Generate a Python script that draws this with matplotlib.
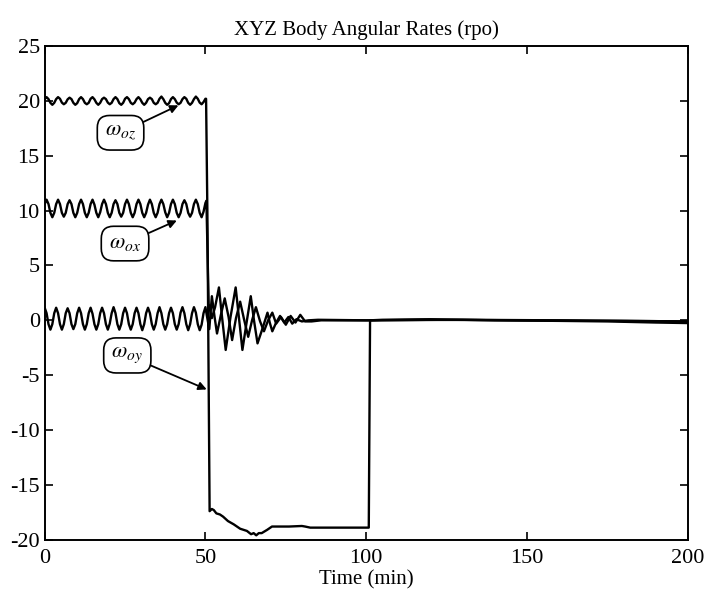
import numpy as np
import matplotlib
matplotlib.use('Agg')
import matplotlib.pyplot as plt

plt.rcParams['font.family'] = ['Liberation Serif', 'DejaVu Serif']
plt.rcParams['mathtext.fontset'] = 'stix'
plt.rcParams['axes.unicode_minus'] = False

# samples before t = 50 min (6 per wiggle)
t_pre = np.linspace(0, 50, 85)

wz_pre = [20.17, 20.35, 20.17, 19.83, 19.65, 19.83,
          20.17, 20.35, 20.2, 19.85, 19.7, 19.83,
          20.15, 20.3, 20.17, 19.83, 19.65, 19.8,
          20.17, 20.35, 20.17, 19.83, 19.7, 19.83,
          20.2, 20.35, 20.15, 19.83, 19.65, 19.83,
          20.17, 20.3, 20.17, 19.85, 19.7, 19.83,
          20.17, 20.35, 20.17, 19.8, 19.65, 19.83,
          20.2, 20.35, 20.17, 19.83, 19.7, 19.85,
          20.17, 20.35, 20.15, 19.83, 19.65, 19.83,
          20.17, 20.3, 20.17, 19.83, 19.7, 19.83,
          20.2, 20.4, 20.17, 19.83, 19.65, 19.8,
          20.17, 20.35, 20.17, 19.85, 19.7, 19.83,
          20.17, 20.35, 20.2, 19.83, 19.65, 19.83,
          20.17, 20.4, 20.2, 19.85, 19.7, 19.9,
          20.2]

wx_pre = [10.6, 11.0, 10.6, 9.8, 9.4, 9.8,
          10.6, 11.0, 10.6, 9.8, 9.45, 9.8,
          10.6, 10.95, 10.6, 9.8, 9.4, 9.8,
          10.6, 11.0, 10.6, 9.8, 9.4, 9.8,
          10.6, 11.0, 10.55, 9.8, 9.4, 9.85,
          10.6, 11.0, 10.6, 9.8, 9.4, 9.8,
          10.6, 10.95, 10.6, 9.8, 9.45, 9.8,
          10.6, 11.0, 10.6, 9.8, 9.4, 9.8,
          10.6, 11.0, 10.6, 9.8, 9.4, 9.8,
          10.55, 11.0, 10.6, 9.8, 9.4, 9.8,
          10.6, 11.0, 10.6, 9.85, 9.4, 9.8,
          10.6, 11.0, 10.6, 9.8, 9.4, 9.8,
          10.6, 10.95, 10.6, 9.8, 9.45, 9.8,
          10.6, 11.0, 10.6, 9.8, 9.4, 9.9,
          10.7]

wy_pre = [1.15, 0.65, -0.35, -0.85, -0.35, 0.65,
          1.15, 0.65, -0.35, -0.85, -0.35, 0.65,
          1.1, 0.65, -0.35, -0.8, -0.35, 0.65,
          1.15, 0.65, -0.35, -0.85, -0.35, 0.65,
          1.15, 0.6, -0.35, -0.85, -0.35, 0.65,
          1.15, 0.65, -0.35, -0.85, -0.3, 0.65,
          1.2, 0.65, -0.35, -0.85, -0.35, 0.65,
          1.15, 0.65, -0.35, -0.85, -0.35, 0.65,
          1.15, 0.65, -0.35, -0.9, -0.35, 0.65,
          1.15, 0.65, -0.35, -0.85, -0.35, 0.65,
          1.2, 0.65, -0.35, -0.85, -0.35, 0.65,
          1.15, 0.65, -0.35, -0.85, -0.35, 0.7,
          1.2, 0.65, -0.35, -0.9, -0.35, 0.65,
          1.2, 0.7, -0.35, -0.9, -0.4, 0.65,
          1.2]

# samples after t = 50 min
tz_post = [50.2, 50.6, 51.3, 52.0, 52.6, 53.4, 54.5, 55.5, 57.0, 58.8, 60.8,
           62.9, 64.2, 65.0, 65.8, 66.6, 67.5, 69.2, 70.7, 72.0, 76.0, 80.0,
           81.0, 82.6, 90.0, 95.0, 100.8, 101.2, 105, 120, 140, 160, 175, 190, 200]
wz_post = [20.2, 10.0, -17.4, -17.2, -17.3, -17.6, -17.7, -17.9, -18.3, -18.6, -19.0,
           -19.2, -19.5, -19.4, -19.6, -19.4, -19.4, -19.1, -18.8, -18.8, -18.8, -18.75,
           -18.8, -18.9, -18.9, -18.9, -18.9, 0.0, 0.05, 0.1, 0.0, -0.05, -0.1, -0.2, -0.25]

tx_post = [50.3, 51.0, 52.0, 53.0, 54.2, 55.2, 56.3, 57.8, 59.4, 60.4, 61.5,
           62.8, 64.1, 65.1, 66.2, 67.8, 69.3, 70.0, 70.8, 72.0, 73.2, 74.5,
           75.8, 77.0, 78.3, 80.0, 82.0, 85.0, 100, 120, 150, 180, 200]
wx_post = [10.9, 1.5, 0.2, 1.2, 3.0, 0.2, -2.7, 0.3, 3.0, 0.3, -2.7,
           -0.2, 2.2, 0.0, -2.1, -0.7, 0.7, -0.2, -1.0, -0.2, 0.4, -0.2,
           0.3, -0.3, 0.1, -0.1, 0.0, 0.05, 0.0, 0.05, 0.0, -0.05, -0.1]

ty_post = [50.4, 51.2, 52.0, 52.8, 53.6, 54.8, 56.0, 57.2, 58.3, 59.5, 60.8,
           62.0, 63.3, 64.5, 65.7, 67.0, 68.2, 69.5, 70.8, 72.0, 73.5, 75.0,
           76.5, 78.0, 79.5, 81.0, 83.0, 86.0, 100, 130, 160, 200]
wy_post = [0.5, -0.8, 2.2, 0.4, -1.2, 0.5, 2.0, 0.3, -1.8, 0.2, 1.7,
           0.1, -1.5, 0.0, 1.2, -0.1, -1.0, 0.0, 0.7, -0.3, 0.3, -0.4,
           0.4, -0.2, 0.5, -0.1, -0.1, 0.0, 0.0, 0.05, 0.0, -0.1]

fig = plt.figure(figsize=(7.09, 5.99), dpi=100)
ax = fig.add_axes([0.063, 0.099, 0.907, 0.824])

ax.plot(np.concatenate([t_pre, tz_post]), wz_pre + wz_post, color='black', lw=1.7)
ax.plot(np.concatenate([t_pre, tx_post]), wx_pre + wx_post, color='black', lw=1.7)
ax.plot(np.concatenate([t_pre, ty_post]), wy_pre + wy_post, color='black', lw=1.7)

box = dict(boxstyle='round,pad=0.35,rounding_size=0.55', fc='white', ec='black', lw=1.2)
arrow = dict(arrowstyle='-|>', color='black', lw=1.3, mutation_scale=12, shrinkA=0, shrinkB=0)
ax.annotate(r'$\omega_{oz}$', xy=(41.6, 19.6), xytext=(23.6, 17.1), fontsize=16,
            ha='center', va='center', bbox=box, arrowprops=arrow)
ax.annotate(r'$\omega_{ox}$', xy=(41.1, 9.1), xytext=(25.0, 7.0), fontsize=16,
            ha='center', va='center', bbox=box, arrowprops=arrow)
ax.annotate(r'$\omega_{oy}$', xy=(50.4, -6.3), xytext=(25.7, -3.2), fontsize=16,
            ha='center', va='center', bbox=box, arrowprops=arrow)

ax.set_xlim(0, 200)
ax.set_ylim(-20, 25)
ax.set_xticks([0, 50, 100, 150, 200])
ax.set_yticks(range(-20, 26, 5))
ax.tick_params(direction='in', top=True, right=True, labelsize=16, length=6, width=1.2)
ax.tick_params(axis='x', pad=7)
for s in ax.spines.values():
    s.set_linewidth(1.4)
ax.set_title('XYZ Body Angular Rates (rpo)', fontsize=15, pad=8)
ax.set_xlabel('Time (min)', fontsize=15, labelpad=1)

fig.savefig('out.png', dpi=100)
